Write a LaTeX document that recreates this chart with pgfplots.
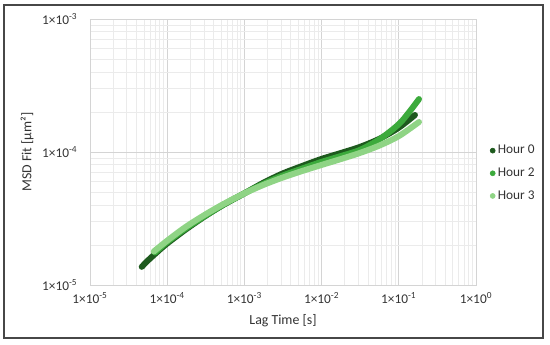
\documentclass[border=0pt]{standalone}
\usepackage{fontspec}
\setmainfont{Carlito}
\usepackage{pgfplots}
\pgfplotsset{compat=1.18}
\usepackage{pgfplotstable}

\definecolor{h0}{RGB}{30,90,30}
\definecolor{h2}{RGB}{60,170,60}
\definecolor{h3}{RGB}{143,212,133}

\pgfplotstableread{
x y
4.68e-5 1.37e-5
5.64e-5 1.53e-5
6.95e-5 1.71e-5
9.65e-5 2.02e-5
1.70e-4 2.59e-5
3.09e-4 3.29e-5
5.44e-4 4.03e-5
9.88e-4 4.87e-5
1.74e-3 5.85e-5
3.07e-3 6.86e-5
5.41e-3 7.79e-5
9.82e-3 8.84e-5
1.73e-2 9.78e-5
3.14e-2 1.092e-4
5.71e-2 1.263e-4
1.006e-1 1.528e-4
1.621e-1 1.898e-4
}\hourzero

\pgfplotstableread{
x y
6.95e-5 1.755e-5
9.65e-5 2.07e-5
1.70e-4 2.64e-5
3.09e-4 3.31e-5
5.44e-4 4.04e-5
9.88e-4 4.87e-5
1.74e-3 5.74e-5
3.07e-3 6.62e-5
5.41e-3 7.45e-5
9.82e-3 8.40e-5
1.73e-2 9.28e-5
3.14e-2 1.037e-4
5.71e-2 1.253e-4
1.006e-1 1.624e-4
1.397e-1 2.034e-4
1.827e-1 2.50e-4
}\hourtwo

\pgfplotstableread{
x y
6.70e-5 1.786e-5
9.65e-5 2.12e-5
1.70e-4 2.71e-5
3.09e-4 3.38e-5
5.44e-4 4.08e-5
9.88e-4 4.87e-5
1.74e-3 5.64e-5
3.07e-3 6.40e-5
5.41e-3 7.15e-5
9.82e-3 7.97e-5
1.73e-2 8.81e-5
3.14e-2 9.84e-5
5.71e-2 1.123e-4
1.006e-1 1.319e-4
1.827e-1 1.681e-4
}\hourthree

\begin{document}
\begin{tikzpicture}
\path[use as bounding box] (-67.5pt,-45pt) rectangle (345pt,213.75pt);
\begin{axis}[
  scale only axis, width=289.5pt, height=199.5pt,
  xmode=log, ymode=log,
  xmin=1e-5, xmax=1, ymin=1e-5, ymax=1e-3,
  xtick={1e-5,1e-4,1e-3,1e-2,1e-1,1},
  xticklabels={1×10\textsuperscript{-5},1×10\textsuperscript{-4},1×10\textsuperscript{-3},1×10\textsuperscript{-2},1×10\textsuperscript{-1},1×10\textsuperscript{0}},
  ytick={1e-5,1e-4,1e-3},
  yticklabels={1×10\textsuperscript{-5},1×10\textsuperscript{-4},1×10\textsuperscript{-3}},
  grid=both,
  major grid style={draw=black!17, line width=0.7pt},
  minor grid style={draw=black!8, line width=0.6pt},
  axis line style={draw=black!17, line width=0.7pt},
  major tick length=0pt, minor tick length=0pt,
  tick style={draw=none},
  ticklabel style={font=\fontsize{10}{12}\selectfont, text=black!80},
  xticklabel style={yshift=-2pt},
  yticklabel style={xshift=-6pt},
  xlabel={Lag Time [s]}, ylabel={MSD Fit [µm²]},
  label style={font=\fontsize{10.4}{12}\selectfont, text=black!80},
  xlabel style={at={(axis description cs:0.5,-0.1353)}, anchor=center},
  ylabel style={at={(axis description cs:-0.163,0.5)}, anchor=center},
  legend style={at={(axis description cs:1.036,0.42)}, anchor=west, draw=none, fill=none,
    inner sep=0pt, row sep=5pt, font=\fontsize{10}{12}\selectfont, text=black!80},
  legend cell align=left,
  legend image code/.code={\draw[mark repeat=2,mark phase=2,#1] plot coordinates {(0cm,0cm) (0.1cm,0cm) (0.2cm,0cm)};},
]
\addplot[h0, line width=4.5pt, line cap=round, line join=round, smooth, forget plot] table {\hourzero};
\addplot[h2, line width=4.5pt, line cap=round, line join=round, smooth, forget plot] table {\hourtwo};
\addplot[h3, line width=4.5pt, line cap=round, line join=round, smooth, forget plot] table {\hourthree};
\addlegendimage{only marks, mark=*, mark size=1.9pt, color=h0}
\addlegendentry{Hour 0}
\addlegendimage{only marks, mark=*, mark size=1.9pt, color=h2}
\addlegendentry{Hour 2}
\addlegendimage{only marks, mark=*, mark size=1.9pt, color=h3}
\addlegendentry{Hour 3}
\end{axis}
\draw[black!72, line width=1.1pt] (-64.5pt,-39.75pt) rectangle (339.75pt,210pt);
\end{tikzpicture}
\end{document}
